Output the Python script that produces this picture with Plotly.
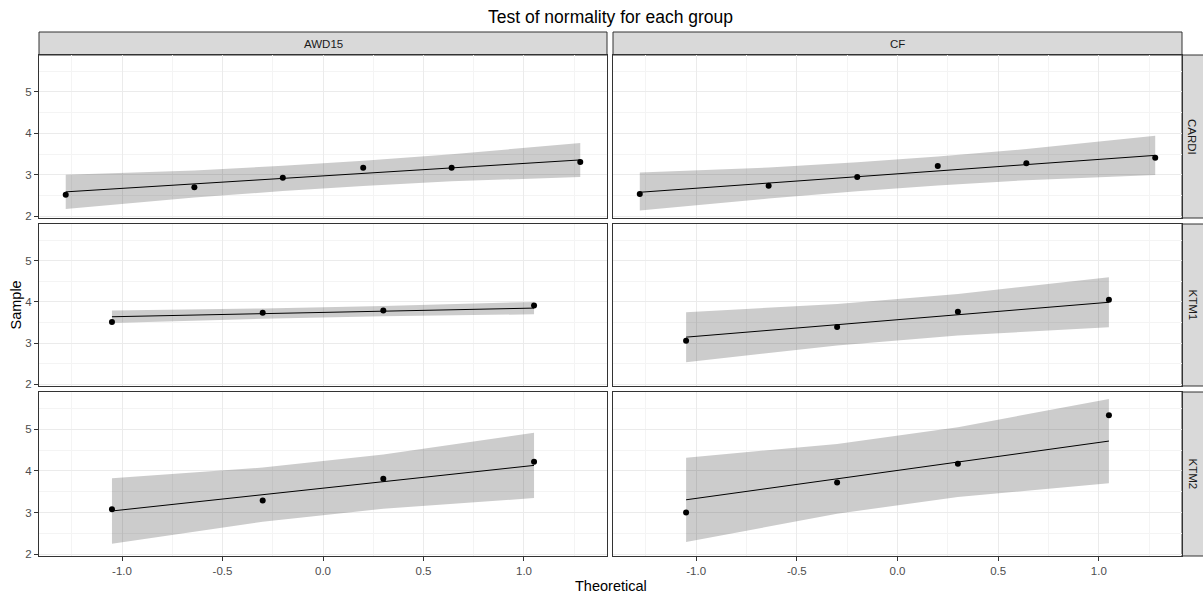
import plotly.graph_objects as go

# ---------------- data ----------------
col_labels = ["AWD15", "CF"]
row_labels = ["CARDI", "KTM1", "KTM2"]

theo6 = [-1.28, -0.64, -0.20, 0.20, 0.64, 1.28]
theo4 = [-1.05, -0.30, 0.30, 1.05]

# sample quantiles
cardi_awd15 = [2.52, 2.70, 2.93, 3.17, 3.17, 3.31]
cardi_cf = [2.54, 2.735, 2.95, 3.215, 3.28, 3.41]
ktm1_awd15 = [3.51, 3.74, 3.79, 3.91]
ktm1_cf = [3.06, 3.39, 3.76, 4.05]
ktm2_awd15 = [3.08, 3.29, 3.81, 4.22]
ktm2_cf = [3.00, 3.72, 4.17, 5.33]

# reference (qq) line values at each theoretical quantile
cardi_awd15_fit = [2.59, 2.78, 2.915, 3.035, 3.17, 3.36]
cardi_cf_fit = [2.58, 2.80, 2.956, 3.094, 3.247, 3.47]
ktm1_awd15_fit = [3.64, 3.715, 3.775, 3.85]
ktm1_cf_fit = [3.145, 3.447, 3.689, 3.991]
ktm2_awd15_fit = [3.039, 3.429, 3.741, 4.131]
ktm2_cf_fit = [3.307, 3.809, 4.211, 4.714]

# confidence band
cardi_awd15_lo = [2.18, 2.455, 2.61, 2.73, 2.845, 2.95]
cardi_awd15_hi = [3.00, 3.105, 3.22, 3.34, 3.495, 3.77]
cardi_cf_lo = [2.14, 2.428, 2.606, 2.744, 2.872, 2.994]
cardi_cf_hi = [3.056, 3.178, 3.306, 3.444, 3.622, 3.944]
ktm1_awd15_lo = [3.49, 3.59, 3.65, 3.70]
ktm1_awd15_hi = [3.79, 3.84, 3.90, 4.00]
ktm1_cf_lo = [2.538, 2.944, 3.186, 3.384]
ktm1_cf_hi = [3.752, 3.950, 4.192, 4.598]
ktm2_awd15_lo = [2.255, 2.780, 3.092, 3.347]
ktm2_awd15_hi = [3.823, 4.078, 4.390, 4.915]
ktm2_cf_lo = [2.297, 2.973, 3.375, 3.704]
ktm2_cf_hi = [4.317, 4.645, 5.047, 5.724]

x_ticks = [-1.0, -0.5, 0.0, 0.5, 1.0]
x_tick_text = ["-1.0", "-0.5", "0.0", "0.5", "1.0"]
y_ticks = [2, 3, 4, 5]

panels = {
    (0, 0): (theo6, cardi_awd15, cardi_awd15_fit, cardi_awd15_lo, cardi_awd15_hi),
    (0, 1): (theo6, cardi_cf, cardi_cf_fit, cardi_cf_lo, cardi_cf_hi),
    (1, 0): (theo4, ktm1_awd15, ktm1_awd15_fit, ktm1_awd15_lo, ktm1_awd15_hi),
    (1, 1): (theo4, ktm1_cf, ktm1_cf_fit, ktm1_cf_lo, ktm1_cf_hi),
    (2, 0): (theo4, ktm2_awd15, ktm2_awd15_fit, ktm2_awd15_lo, ktm2_awd15_hi),
    (2, 1): (theo4, ktm2_cf, ktm2_cf_fit, ktm2_cf_lo, ktm2_cf_hi),
}

# ---------------- layout geometry ----------------
W, H = 1203, 596
ML, MR, MT, MB = 39, 21, 32, 40
PW = W - ML - MR
PH = H - MT - MB
FONT = "Liberation Sans, Arial, sans-serif"


def px_x(px):
    return (px - ML) / PW


def px_y(py):
    return (H - MB - py) / PH


col_dom = [[px_x(39), px_x(607)], [px_x(613), px_x(1182)]]
row_pix = [(55, 218), (224, 386), (392, 556)]
row_dom = [[px_y(b), px_y(t)] for t, b in row_pix]

X_RANGE = [-1.413, 1.413]
Y_RANGE = [1.96, 5.89]

fig = go.Figure()
layout = {}

for (r, c), (xs, ys, fit, lo, hi) in panels.items():
    i = r * 2 + c + 1
    xa = "x" if i == 1 else f"x{i}"
    ya = "y" if i == 1 else f"y{i}"
    # band
    fig.add_trace(go.Scatter(
        x=xs + xs[::-1], y=hi + lo[::-1], xaxis=xa, yaxis=ya,
        fill="toself", fillcolor="rgba(0,0,0,0.2)", line=dict(width=0),
        mode="lines", hoverinfo="skip", showlegend=False))
    # qq line
    fig.add_trace(go.Scatter(
        x=xs, y=fit, xaxis=xa, yaxis=ya, mode="lines",
        line=dict(color="black", width=1), showlegend=False))
    # points
    fig.add_trace(go.Scatter(
        x=xs, y=ys, xaxis=xa, yaxis=ya, mode="markers",
        marker=dict(color="black", size=6), showlegend=False))

    bottom = r == 2
    left = c == 0
    xkey = "xaxis" if i == 1 else f"xaxis{i}"
    ykey = "yaxis" if i == 1 else f"yaxis{i}"
    layout[xkey] = dict(
        domain=col_dom[c], anchor=ya, range=X_RANGE,
        tickvals=x_ticks, ticktext=x_tick_text, showticklabels=bottom,
        ticks="outside" if bottom else "", ticklen=4, tickwidth=1, tickcolor="#333333",
        tickfont=dict(family=FONT, size=11.5, color="#4D4D4D"),
        showgrid=True, gridcolor="#EBEBEB", gridwidth=1,
        minor=dict(tick0=0.25, dtick=0.5, showgrid=True, gridcolor="#F4F4F4", gridwidth=1),
        showline=True, mirror=True, linecolor="#333333", linewidth=1,
        zeroline=False, fixedrange=True)
    layout[ykey] = dict(
        domain=row_dom[r], anchor=xa, range=Y_RANGE,
        tickvals=y_ticks, showticklabels=left,
        ticks="outside" if left else "", ticklen=4, tickwidth=1, tickcolor="#333333",
        tickfont=dict(family=FONT, size=11.5, color="#4D4D4D"),
        showgrid=True, gridcolor="#EBEBEB", gridwidth=1,
        minor=dict(tick0=2.5, dtick=1, showgrid=True, gridcolor="#F4F4F4", gridwidth=1),
        showline=True, mirror=True, linecolor="#333333", linewidth=1,
        zeroline=False, fixedrange=True)

shapes = []
annotations = []
strip_font = dict(family=FONT, size=11.5, color="#1A1A1A")

# top strips
for c, lab in enumerate(col_labels):
    shapes.append(dict(type="rect", xref="paper", yref="paper",
                       x0=col_dom[c][0], x1=col_dom[c][1], y0=px_y(55), y1=px_y(32),
                       fillcolor="#D9D9D9", line=dict(color="#333333", width=1), layer="below"))
    annotations.append(dict(text=lab, xref="paper", yref="paper",
                            x=(col_dom[c][0] + col_dom[c][1]) / 2, y=px_y(43.5),
                            xanchor="center", yanchor="middle", showarrow=False, font=strip_font))

# right strips
for r, lab in enumerate(row_labels):
    shapes.append(dict(type="rect", xref="paper", yref="paper",
                       x0=px_x(1182), x1=px_x(1204), y0=row_dom[r][0], y1=row_dom[r][1],
                       fillcolor="#D9D9D9", line=dict(color="#333333", width=1), layer="below"))
    annotations.append(dict(text=lab, xref="paper", yref="paper",
                            x=px_x(1192.5), y=(row_dom[r][0] + row_dom[r][1]) / 2,
                            xanchor="center", yanchor="middle", textangle=90,
                            showarrow=False, font=strip_font))

# axis titles
annotations.append(dict(text="Theoretical", xref="paper", yref="paper",
                        x=0.5, y=px_y(585.5), xanchor="center", yanchor="middle",
                        showarrow=False,
                        font=dict(family=FONT, size=14.5, color="black")))
annotations.append(dict(text="Sample", xref="paper", yref="paper",
                        x=px_x(15), y=px_y(305.5), xanchor="center", yanchor="middle",
                        textangle=-90, showarrow=False,
                        font=dict(family=FONT, size=14.5, color="black")))

fig.update_layout(
    width=W, height=H,
    margin=dict(l=ML, r=MR, t=MT, b=MB),
    paper_bgcolor="white", plot_bgcolor="white",
    title=dict(text="Test of normality for each group", xref="paper", yref="container",
               x=0.5, y=1 - 16.5 / H, xanchor="center", yanchor="middle",
               font=dict(family=FONT, size=17.5, color="black")),
    shapes=shapes, annotations=annotations, showlegend=False,
    **layout)

fig.write_html(
    "out.html",
    config={"displayModeBar": False},
    post_script="document.body.style.margin='0';document.body.style.overflow='hidden';",
)
